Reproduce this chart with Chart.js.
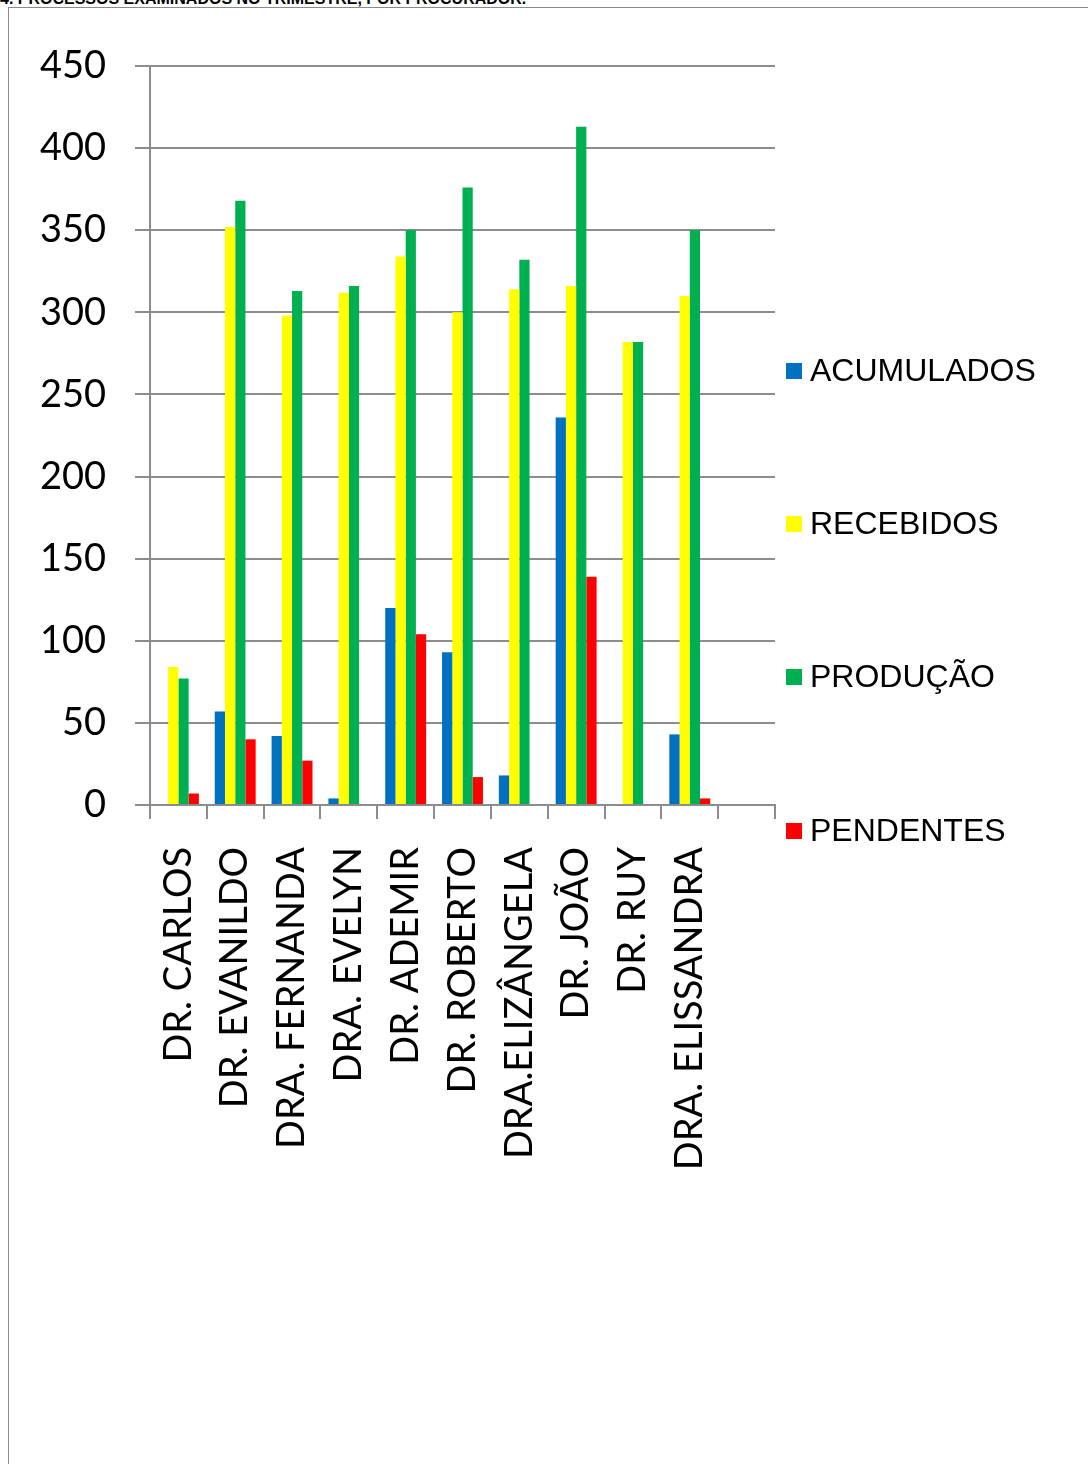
<!DOCTYPE html>
<html>
<head>
<meta charset="utf-8">
<script src="https://cdn.jsdelivr.net/npm/chart.js@4.4.1/dist/chart.umd.min.js"></script>
<style>
  html, body { margin: 0; padding: 0; background: #fff; overflow: hidden; }
  #page { position: relative; width: 1088px; height: 1464px; overflow: hidden; }
  #title {
    position: absolute; left: 0; top: -9px; white-space: nowrap;
    font: bold 16px "Liberation Sans", Arial, sans-serif; line-height: 16px; color: #000;
  }
  #frame { position: absolute; left: 8px; top: 7px; width: 1200px; height: 1600px; border: 1px solid #8a8a8a; }
  #chart { position: absolute; left: 0; top: 0; }
  .leg { position: absolute; left: 786px; font: 32px "Liberation Sans", Arial, sans-serif; color: #000; line-height: 32px; white-space: nowrap; }
  .leg span { display: inline-block; width: 16px; height: 16px; margin-right: 8px; vertical-align: 2px; }
</style>
</head>
<body>
<div id="page">
  <div id="frame"></div>
  <div id="title">4. PROCESSOS EXAMINADOS NO TRIMESTRE, POR PROCURADOR.</div>
  <canvas id="chart" width="1088" height="1464"></canvas>
  <div id="legend"></div>
</div>
<script>
// ========== DATA ==========
const categories = ['DR. CARLOS', 'DR. EVANILDO', 'DRA. FERNANDA', 'DRA. EVELYN', 'DR. ADEMIR',
  'DR. ROBERTO', 'DRA.ELIZÂNGELA', 'DR. JOÃO', 'DR. RUY', 'DRA. ELISSANDRA', ''];
const acumulados = [0, 57, 42, 4, 120, 93, 18, 236, 0, 43, null];
const recebidos  = [84, 352, 298, 312, 334, 300, 314, 316, 282, 310, null];
const producao   = [77, 368, 313, 316, 350, 376, 332, 413, 282, 350, null];
const pendentes  = [7, 40, 27, 0, 104, 17, 0, 139, 0, 4, null];
const yTicks = [0, 50, 100, 150, 200, 250, 300, 350, 400, 450];

const seriesNames = ['ACUMULADOS', 'RECEBIDOS', 'PRODUÇÃO', 'PENDENTES'];
const seriesColors = ['#0070C0', '#FFFF00', '#00B050', '#FF0000'];
const legendTops = [354, 507, 660, 814];

// ========== LEGEND (html) ==========
function buildLegend() {
  const box = document.getElementById('legend');
  seriesNames.forEach((name, i) => {
    const d = document.createElement('div');
    d.className = 'leg';
    d.style.top = legendTops[i] + 'px';
    d.innerHTML = '<span style="background:' + seriesColors[i] + '"></span>' + name;
    box.appendChild(d);
  });
}

// ========== CHART ==========
function initChart() {
  const ctx = document.getElementById('chart');
  const values = [acumulados, recebidos, producao, pendentes];

  new Chart(ctx.getContext('2d'), {
    type: 'bar',
    data: {
      labels: categories,
      datasets: seriesNames.map((name, i) => ({
        label: name,
        data: values[i],
        backgroundColor: seriesColors[i],
        borderWidth: 0,
        categoryPercentage: 0.72,
        barPercentage: 1.0,
      }))
    },
    options: {
      responsive: false,
      animation: false,
      devicePixelRatio: 1,
      layout: { padding: { left: 0, right: 313, top: 66, bottom: 0 } },
      plugins: {
        legend: { display: false },
        tooltip: { enabled: false }
      },
      scales: {
        y: {
          min: 0,
          max: 450,
          afterFit: s => { s.width = 150; },
          afterBuildTicks: s => { s.ticks = yTicks.map(v => ({ value: v })); },
          grid: { color: '#8c8c8c', lineWidth: 2, tickLength: 15 },
          border: { color: '#8c8c8c', width: 2 },
          ticks: { color: '#000', padding: 29, font: { family: 'Lato', size: 38 } }
        },
        x: {
          afterFit: s => { s.height = 1464 - 805; },
          grid: { drawOnChartArea: false, drawTicks: true, color: '#8c8c8c', lineWidth: 2, tickLength: 14, offset: true },
          border: { color: '#8c8c8c', width: 2 },
          ticks: {
            color: '#000', autoSkip: false, maxRotation: 90, minRotation: 90, padding: 28,
            font: { family: 'Lato', size: 38 }
          }
        }
      }
    }
  });
}

document.addEventListener('DOMContentLoaded', () => {
  buildLegend();
  initChart();
});
</script>
</body>
</html>
